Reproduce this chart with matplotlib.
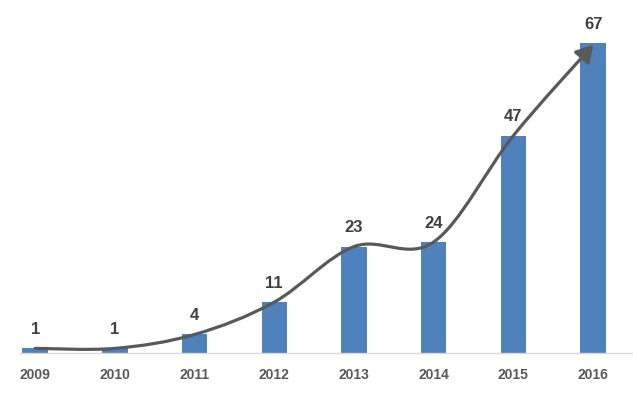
import matplotlib.pyplot as plt
import numpy as np
from matplotlib.path import Path
from matplotlib.patches import FancyArrowPatch

# data
years = ['2009', '2010', '2011', '2012', '2013', '2014', '2015', '2016']
counts = [1, 1, 4, 11, 23, 24, 47, 67]

bar_color = '#4F81BD'
curve_color = '#595959'
label_color = '#404040'

fig = plt.figure(figsize=(6.33, 3.96), dpi=100)
ax = fig.add_axes([20 / 633, 43 / 396, 613 / 633, 353 / 396])

x = np.arange(len(years))
ax.bar(x, counts, width=0.32, color=bar_color, zorder=2)

for xi, v in zip(x, counts):
    ax.annotate(str(v), (xi, v), xytext=(0, 8), textcoords='offset points',
                ha='center', va='bottom', fontsize=12, fontweight='bold',
                color=label_color, family='Liberation Sans')

# smooth trend arrow through the bar tops (catmull-rom -> bezier segments)
pts = np.column_stack([x, counts]).astype(float)
pts[-1, 1] = counts[-1] - 0.4
verts = [pts[0]]
codes = [Path.MOVETO]
n = len(pts)
for i in range(n - 1):
    p0 = pts[i - 1] if i > 0 else pts[i]
    p1 = pts[i]
    p2 = pts[i + 1]
    p3 = pts[i + 2] if i + 2 < n else pts[i + 1]
    c1 = p1 + (p2 - p0) / 6
    c2 = p2 - (p3 - p1) / 6
    verts += [c1, c2, p2]
    codes += [Path.CURVE4] * 3
arrow = FancyArrowPatch(path=Path(verts, codes), arrowstyle='-|>,head_length=10,head_width=6',
                        color=curve_color, lw=2.3, zorder=3)
ax.add_patch(arrow)

ax.set_xlim(-0.19, 7.5)
ax.set_ylim(0, 76.3)
ax.set_xticks(x)
ax.set_xticklabels(years, fontsize=10, fontweight='bold', color=curve_color,
                   family='Liberation Sans')
ax.tick_params(axis='x', length=0, pad=11)
ax.set_yticks([])
for s in ['top', 'left', 'right']:
    ax.spines[s].set_visible(False)
ax.spines['bottom'].set_color('#d9d9d9')
ax.spines['bottom'].set_linewidth(1)

fig.savefig('out.png', dpi=100)
